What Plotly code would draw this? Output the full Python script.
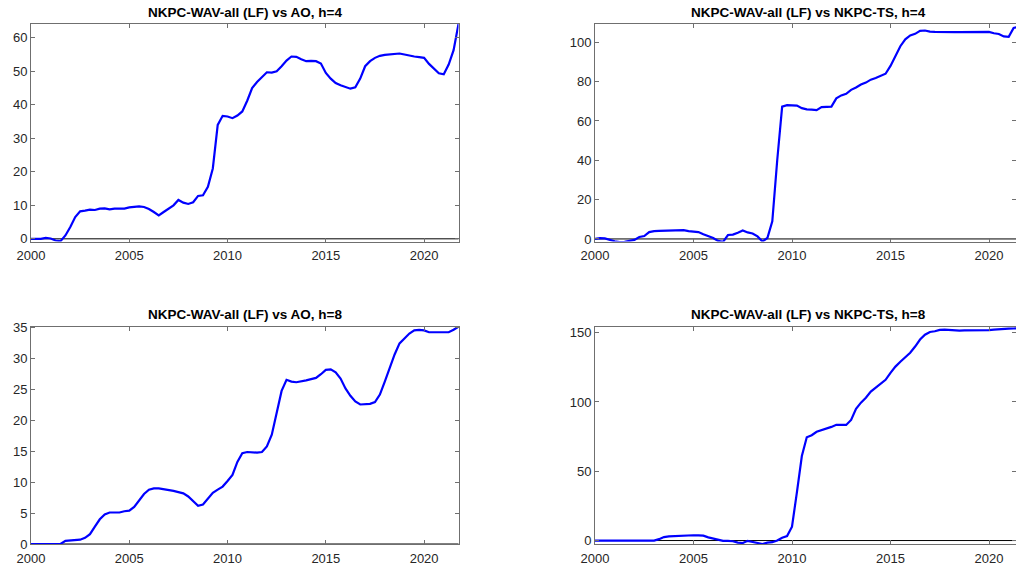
import plotly.graph_objects as go

# Quarterly dates 2000Q1 .. 2021Q4
years = [2000 + 0.25 * i for i in range(88)]

titles = [
    "NKPC-WAV-all (LF) vs AO, h=4",
    "NKPC-WAV-all (LF) vs NKPC-TS, h=4",
    "NKPC-WAV-all (LF) vs AO, h=8",
    "NKPC-WAV-all (LF) vs NKPC-TS, h=8",
]

ao_h4 = [
    0.0, 0.0, 0.0, 0.3, 0.1, -0.5, -0.7, 1.0,
    3.5, 6.5, 8.2, 8.4, 8.7, 8.6, 9.0, 9.1,
    8.8, 9.0, 9.0, 9.0, 9.4, 9.6, 9.7, 9.5,
    8.9, 8.0, 7.0, 8.0, 9.0, 10.0, 11.6, 10.8,
    10.4, 10.9, 12.8, 13.0, 15.5, 21.0, 34.0, 36.7,
    36.5, 36.0, 36.8, 38.0, 41.2, 45.0, 46.8, 48.3,
    49.7, 49.6, 50.0, 51.5, 53.2, 54.4, 54.3, 53.6,
    53.0, 53.1, 53.0, 52.3, 49.5, 47.8, 46.5, 45.8,
    45.2, 44.8, 45.2, 47.8, 51.5, 53.0, 54.0, 54.6,
    54.9, 55.1, 55.3, 55.3, 55.0, 54.6, 54.4, 54.2,
    54.0, 52.2, 50.8, 49.4, 49.1, 52.0, 56.3, 64.1,
]

ts_h4 = [
    0.0, 0.4, 0.3, -0.5, -1.2, -1.6, -1.5, -1.0,
    -0.5, 1.0, 1.5, 3.5, 4.0, 4.1, 4.2, 4.2,
    4.2, 4.4, 4.5, 4.0, 3.6, 3.5, 2.4, 1.5,
    0.5, -1.0, -1.5, 2.0, 2.2, 3.2, 4.3, 3.3,
    2.8, 1.3, -1.3, 0.5, 9.0, 40.0, 67.3, 68.0,
    68.0, 67.8, 66.5, 65.9, 65.8, 65.5, 67.0, 67.2,
    67.3, 71.5, 73.0, 73.8, 75.8, 77.0, 78.5, 79.5,
    81.0, 81.8, 82.8, 84.0, 88.0, 93.0, 98.0, 101.5,
    103.5, 104.3, 105.8, 106.0, 105.4, 105.3, 105.2, 105.2,
    105.2, 105.2, 105.2, 105.2, 105.3, 105.3, 105.4, 105.5,
    105.3, 104.6, 104.2, 103.0, 102.8, 107.3, 108.0, 109.3,
]

ao_h8 = [
    0.0, 0.0, 0.0, 0.0, 0.0, 0.0, 0.0, 0.5,
    0.6, 0.6, 0.7, 1.0, 1.6, 2.8, 4.0, 4.8,
    5.1, 5.1, 5.1, 5.3, 5.4, 6.0, 7.0, 8.1,
    8.8, 9.0, 9.0, 8.9, 8.8, 8.6, 8.4, 8.2,
    7.7, 7.0, 6.2, 6.4, 7.4, 8.3, 8.8, 9.3,
    10.2, 11.2, 13.3, 14.7, 14.9, 14.8, 14.8, 14.9,
    15.8, 17.7, 21.5, 24.8, 26.6, 26.3, 26.2, 26.3,
    26.5, 26.7, 26.9, 27.5, 28.2, 28.3, 27.8, 26.8,
    25.2, 24.0, 23.1, 22.6, 22.7, 22.7, 23.0, 24.2,
    26.3, 28.5, 30.7, 32.5, 33.3, 34.1, 34.6, 34.7,
    34.6, 34.3, 34.3, 34.3, 34.2, 34.3, 34.7, 35.2,
]

ts_h8 = [
    0.0, 0.0, 0.0, 0.1, 0.1, 0.2, 0.2, 0.3,
    0.3, 0.3, 0.2, 0.1, 0.0, 1.0, 2.5, 3.0,
    3.2, 3.5, 3.8, 3.8, 3.8, 3.7, 3.5, 2.3,
    1.5, 0.8, -0.2, -0.3, -0.5, -1.5, -1.8, -0.2,
    -0.8, -1.8, -2.5, -1.5, -1.2, 0.0, 2.0, 3.2,
    10.0, 35.0, 61.0, 74.5, 76.0, 78.5, 79.5, 80.8,
    82.0, 83.5, 83.4, 83.4, 87.0, 95.0, 99.5, 103.0,
    107.5, 110.5, 113.5, 116.0, 121.0, 125.5, 129.0, 132.0,
    135.5, 140.0, 145.0, 148.5, 150.5, 151.0, 152.0, 152.2,
    151.8, 151.5, 151.4, 151.6, 151.6, 151.6, 151.6, 151.7,
    151.8, 152.2, 152.6, 152.8, 152.9, 153.0, 153.2, 153.3,
]

x_ticks = [2000, 2005, 2010, 2015, 2020]
y_ticks = [
    [0, 10, 20, 30, 40, 50, 60],
    [0, 20, 40, 60, 80, 100],
    [0, 5, 10, 15, 20, 25, 30, 35],
    [0, 50, 100, 150],
]
y_ranges = [[-0.8, 64.1], [-1.3, 109.3], [0, 35.2], [-2.5, 154.3]]
series = [ao_h4, ts_h4, ao_h8, ts_h8]

W, H = 1016, 567
left_dom = [31 / W, 458.5 / W]
right_dom = [595 / W, 1.0]
top_dom = [1 - 241.5 / H, 1 - 24 / H]
bot_dom = [1 - 544 / H, 1 - 326.7 / H]
x_doms = [left_dom, right_dom, left_dom, right_dom]
y_doms = [top_dom, top_dom, bot_dom, bot_dom]
x_ranges = [[2000, 2021.75], [2000, 2000 + (W - 595) / 19.7],
            [2000, 2021.75], [2000, 2000 + (W - 595) / 19.7]]

AX = "#6f6f6f"
TXT = "#262626"
FONT = "Liberation Sans, Arial, sans-serif"

fig = go.Figure()
layout = dict(
    width=W, height=H,
    margin=dict(l=0, r=0, t=0, b=0, autoexpand=False),
    paper_bgcolor="white", plot_bgcolor="white",
    showlegend=False,
    font=dict(family=FONT, size=13, color=TXT),
    annotations=[], shapes=[],
)

for k in range(4):
    sfx = "" if k == 0 else str(k + 1)
    fig.add_trace(go.Scatter(
        x=years, y=series[k], mode="lines",
        line=dict(color="#0000ff", width=2.2),
        xaxis="x" + sfx, yaxis="y" + sfx, hoverinfo="skip",
    ))
    common = dict(
        showline=True, linecolor=AX, linewidth=1, mirror="ticks",
        ticks="inside", ticklen=4, tickcolor=AX, tickwidth=1,
        showgrid=False, zeroline=False, automargin=False,
        tickfont=dict(family=FONT, size=13, color=TXT),
    )
    layout["xaxis" + sfx] = dict(
        domain=x_doms[k], range=x_ranges[k], tickvals=x_ticks,
        anchor="y" + sfx, ticklabelstandoff=2, **common,
    )
    layout["yaxis" + sfx] = dict(
        domain=y_doms[k], range=y_ranges[k], tickvals=y_ticks[k],
        anchor="x" + sfx, **common,
    )
    # horizontal reference line at zero
    layout["shapes"].append(dict(
        type="line", xref="x" + sfx, yref="y" + sfx,
        x0=x_ranges[k][0], x1=x_ranges[k][1] + 1, y0=0, y1=0,
        line=dict(color="#000000", width=1), layer="below",
    ))
    layout["annotations"].append(dict(
        text="<b>" + titles[k] + "</b>",
        xref="paper", yref="paper",
        x=(x_doms[k][0] + (x_doms[k][0] + 427.5 / W)) / 2,
        y=y_doms[k][1] + 12 / H,
        xanchor="center", yanchor="middle", showarrow=False,
        font=dict(family=FONT, size=13.5, color="#000000"),
    ))

fig.update_layout(**layout)
fig.write_html("out.html")
